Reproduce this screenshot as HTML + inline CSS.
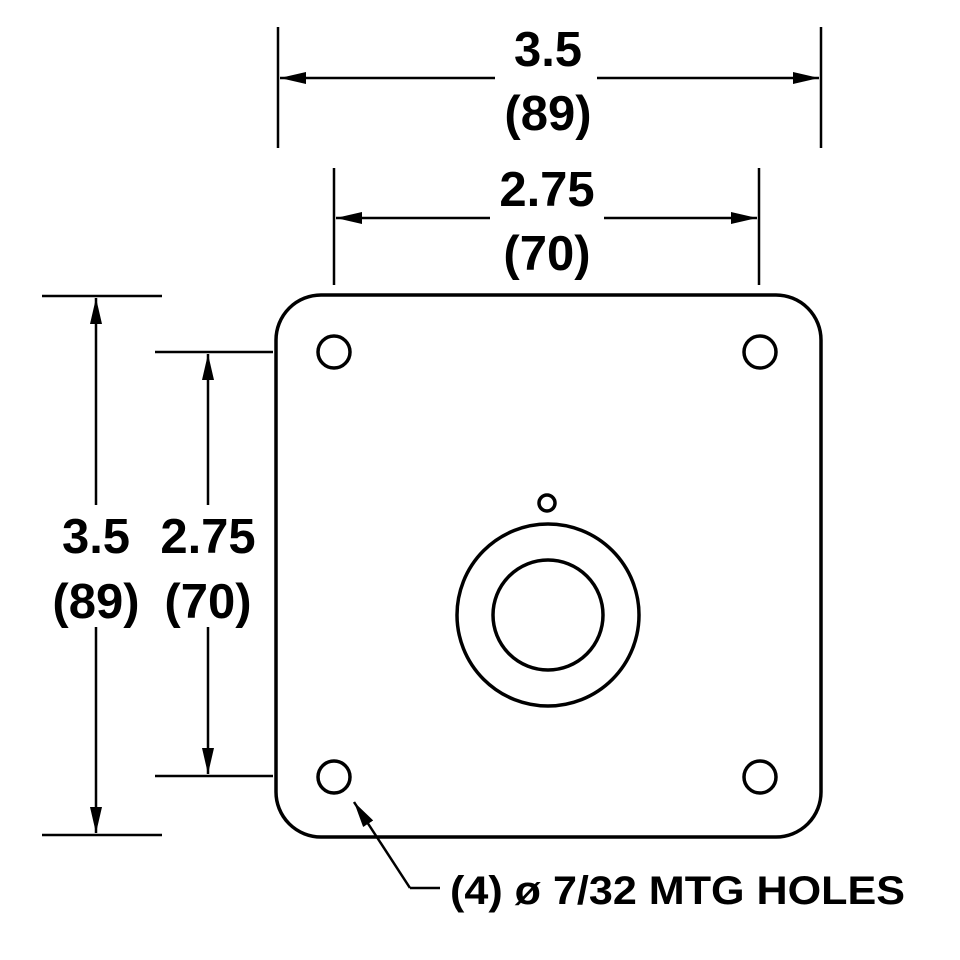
<!DOCTYPE html>
<html><head><meta charset="utf-8"><style>
html,body{margin:0;padding:0;background:#fff;}
svg{display:block;}
text{font-family:"Liberation Sans",Arial,sans-serif;font-weight:bold;fill:#000;}
</style></head><body>
<svg width="960" height="960" viewBox="0 0 960 960" xmlns="http://www.w3.org/2000/svg">
<defs>
<marker id="a" viewBox="0 0 26 12" refX="26" refY="6" markerWidth="26" markerHeight="12" markerUnits="userSpaceOnUse" orient="auto-start-reverse">
<path d="M0,0 L26,6 L0,12 Z" fill="#000"/></marker>
</defs>
<g stroke="#000" fill="none" stroke-width="3.5">
<rect x="276" y="295" width="545" height="542" rx="45" ry="45"/>
<circle cx="334" cy="352" r="16"/>
<circle cx="760" cy="352" r="16"/>
<circle cx="334" cy="777" r="16"/>
<circle cx="760" cy="777" r="16"/>
<circle cx="548" cy="615" r="91"/>
<circle cx="548" cy="615" r="55"/>
<circle cx="547" cy="503" r="8"/>
</g>
<g stroke="#000" stroke-width="2.5">
<line x1="278" y1="27" x2="278" y2="148"/>
<line x1="821" y1="27" x2="821" y2="148"/>
<line x1="334" y1="168" x2="334" y2="285"/>
<line x1="759" y1="168" x2="759" y2="285"/>
<line x1="42" y1="296" x2="162" y2="296"/>
<line x1="42" y1="835" x2="162" y2="835"/>
<line x1="155" y1="352" x2="273" y2="352"/>
<line x1="155" y1="776" x2="273" y2="776"/>
<line x1="280" y1="78" x2="819" y2="78" marker-start="url(#a)" marker-end="url(#a)"/>
<line x1="336" y1="218" x2="757" y2="218" marker-start="url(#a)" marker-end="url(#a)"/>
<line x1="96" y1="298" x2="96" y2="833" marker-start="url(#a)" marker-end="url(#a)"/>
<line x1="208" y1="354" x2="208" y2="774" marker-start="url(#a)" marker-end="url(#a)"/>
<polyline points="410,888 440,888" fill="none"/>
<line x1="410" y1="888" x2="354" y2="802" marker-end="url(#a)"/>
</g>
<g fill="#fff">
<rect x="495" y="28" width="102" height="106"/>
<rect x="490" y="168" width="114" height="106"/>
<rect x="46" y="505" width="100" height="122"/>
<rect x="152" y="505" width="112" height="122"/>
</g>
<g font-size="49" text-anchor="middle">
<text x="548" y="66">3.5</text>
<text x="548" y="130">(89)</text>
<text x="547" y="206">2.75</text>
<text x="547" y="270">(70)</text>
<text x="96" y="553">3.5</text>
<text x="96" y="618">(89)</text>
<text x="208" y="553">2.75</text>
<text x="208" y="618">(70)</text>
</g>
<text x="450" y="904" font-size="40" textLength="455" lengthAdjust="spacingAndGlyphs">(4) ø 7/32 MTG HOLES</text>
</svg>
</body></html>
